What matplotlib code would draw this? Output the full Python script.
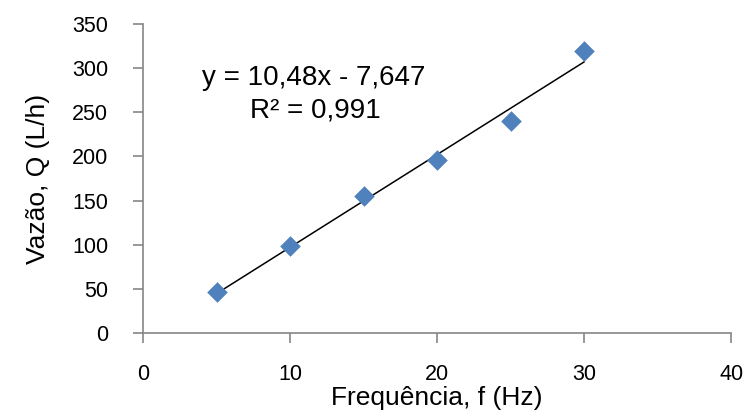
import numpy as np
import matplotlib
matplotlib.use('Agg')
import matplotlib.pyplot as plt

plt.rcParams['font.family'] = ['Liberation Sans', 'DejaVu Sans']

freq = [5, 10, 15, 20, 25, 30]
vazao = [46, 98, 155, 196, 240, 320]
x_ticks = [0, 10, 20, 30, 40]
y_ticks = [0, 50, 100, 150, 200, 250, 300, 350]

# linha de tendência linear
coef = np.polyfit(freq, vazao, 1)
x_fit = np.array([min(freq), max(freq)])
y_fit = np.polyval(coef, x_fit)

fig = plt.figure(figsize=(7.46, 4.17), dpi=100)
ax = fig.add_axes([0.1917, 0.2014, 0.7883, 0.741])

ax.plot(x_fit, y_fit, color='black', linewidth=1.1, zorder=2)
ax.scatter(freq, vazao, marker='D', s=110, color='#4F81BD', zorder=3, linewidths=0)

ax.set_xlim(0, 40)
ax.set_ylim(0, 350)
ax.set_xticks(x_ticks)
ax.set_yticks(y_ticks)

for s in ['top', 'right']:
    ax.spines[s].set_visible(False)
for s in ['left', 'bottom']:
    ax.spines[s].set_color('#868686')
    ax.spines[s].set_linewidth(1.2)

ax.tick_params(axis='both', colors='#868686', length=7, width=1.2, labelsize=15.5,
               labelcolor='black')
ax.tick_params(axis='x', pad=15)
ax.tick_params(axis='y', pad=18)

ax.set_xlabel('Frequência, f (Hz)', fontsize=19, labelpad=1)
ax.set_ylabel('Vazão, Q (L/h)', fontsize=19, labelpad=16)

ax.text(11.6, 289, 'y = 10,48x - 7,647', fontsize=20, ha='center', va='center')
ax.text(11.7, 252, 'R² = 0,991', fontsize=20, ha='center', va='center')

fig.savefig('out.png', dpi=100)
